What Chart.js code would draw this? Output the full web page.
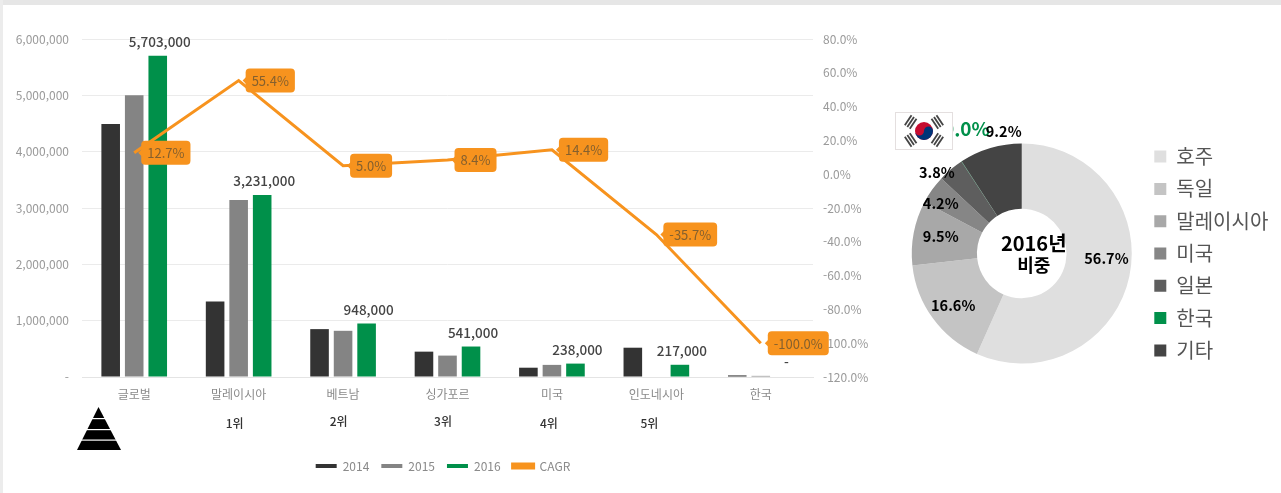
<!DOCTYPE html>
<html lang="ko">
<head>
<meta charset="utf-8">
<title>2016 chart</title>
<script src="https://cdn.jsdelivr.net/npm/chart.js@4"></script>
<style>
html,body{margin:0;padding:0;background:#fff;width:1281px;height:493px;overflow:hidden;font-family:"Noto Sans CJK KR",sans-serif}
#frameTop{position:absolute;left:0;top:0;width:1281px;height:5px;background:#e6e6e6}
#frameLeft{position:absolute;left:0;top:0;width:3px;height:493px;background:#ececec}
#c1{position:absolute;left:0;top:0}
#c2{position:absolute;left:880px;top:0}
#flag{position:absolute;left:895px;top:112px}
#pyramid{position:absolute;left:77px;top:407px}
</style>
</head>
<body>
<div id="frameTop"></div><div id="frameLeft"></div>
<canvas id="c1" width="886" height="493"></canvas>
<canvas id="c2" width="401" height="493"></canvas>
<svg id="pyramid" width="44" height="43" viewBox="0 0 44 43">
  <polygon points="21.5,0 0,43 44,43" fill="#000"/>
  <rect x="0" y="11" width="44" height="1.2" fill="#fff"/>
  <rect x="0" y="22" width="44" height="1.2" fill="#fff"/>
  <rect x="0" y="32.5" width="44" height="1.2" fill="#fff"/>
</svg>
<svg id="flag" width="58" height="38" viewBox="0 0 58 38">
  <rect x="0.5" y="0.5" width="57" height="37" fill="#fff" stroke="#e4dfdf"/>
  <g transform="translate(29 19)">
    <circle r="9" fill="#c60c30"/>
    <path d="M-9 0A9 9 0 0 0 9 0A4.5 4.5 0 0 0 0 0A4.5 4.5 0 0 1 -9 0Z" fill="#003478"/>
    <g fill="#444">
      <g transform="rotate(-56)"><rect x="-6" y="-20" width="12" height="1.8"/><rect x="-6" y="-17" width="12" height="1.8"/><rect x="-6" y="-14" width="12" height="1.8"/></g>
      <g transform="rotate(56)"><rect x="-6" y="-20" width="12" height="1.8"/><rect x="-6" y="-17" width="12" height="1.8"/><rect x="-6" y="-14" width="12" height="1.8"/></g>
      <g transform="rotate(124)"><rect x="-6" y="-20" width="12" height="1.8"/><rect x="-6" y="-17" width="12" height="1.8"/><rect x="-6" y="-14" width="12" height="1.8"/></g>
      <g transform="rotate(-124)"><rect x="-6" y="-20" width="12" height="1.8"/><rect x="-6" y="-17" width="12" height="1.8"/><rect x="-6" y="-14" width="12" height="1.8"/></g>
    </g>
  </g>
</svg>
<script>
const FONT = '"Noto Sans CJK KR","Noto Sans",sans-serif';

const categories = ['글로벌','말레이시아','베트남','싱가포르','미국','인도네시아','한국'];
const ranks = ['','1위','2위','3위','4위','5위',''];
const values2014 = [4490000,1340000,850000,450000,165000,520000,28000];
const values2015 = [5000000,3140000,820000,380000,215000,null,20000];
const values2016 = [5703000,3231000,948000,541000,238000,217000,0];
const cagr = [12.7,55.4,5.0,8.4,14.4,-35.7,-100.0];

const shareLabels = ['호주','독일','말레이시아','미국','일본','한국','기타'];
const shareValues = [56.7,16.6,9.5,4.2,3.8,0.04,9.2];

const seriesColors = {y2014:'#333333',y2015:'#848484',y2016:'#00904a',cagr:'#f7931e'};
const shareColors = ['#dfdfdf','#c4c4c4','#a8a8a8','#868686','#5e5e5e','#00904a','#444444'];
const rankDx = [0,-4,-4.5,-4.5,-3,-7,0];
const rankY = [0,423,421,421,423,423,0];
const shareLabelDx = [9,-6,-5,-18,-35,-13,4];
const shareLabelDy = [-11,6,-2,-5,-22,-60,-48];

const barValueLabels = {
  id:'barValueLabels',
  afterDatasetsDraw(chart){
    const ctx = chart.ctx, meta = chart.getDatasetMeta(2);
    ctx.save();
    ctx.font = '500 13.5px '+FONT;
    ctx.fillStyle = '#444';
    ctx.textAlign = 'center';
    ctx.textBaseline = 'middle';
    meta.data.forEach((el,i)=>{
      const v = values2016[i];
      ctx.fillText(v===0?'-':v.toLocaleString('en-US'), el.x+2, el.y-14);
    });
    ctx.restore();
  }
};

const rankLabels = {
  id:'rankLabels',
  afterDraw(chart){
    const ctx = chart.ctx, xs = chart.scales.x;
    ctx.save();
    ctx.font = '500 12px '+FONT;
    ctx.fillStyle = '#333';
    ctx.textAlign = 'center';
    ctx.textBaseline = 'middle';
    ranks.forEach((r,i)=>{ if(r) ctx.fillText(r, xs.getPixelForTick(i)+rankDx[i], rankY[i]); });
    ctx.restore();
  }
};

const cagrCallouts = {
  id:'cagrCallouts',
  afterDatasetsDraw(chart){
    const ctx = chart.ctx, meta = chart.getDatasetMeta(3);
    ctx.save();
    ctx.font = '13px '+FONT;
    ctx.textBaseline = 'middle';
    ctx.textAlign = 'left';
    meta.data.forEach((el,i)=>{
      const t = cagr[i].toFixed(1)+'%';
      const w = ctx.measureText(t).width+12, h = 24, bx = el.x+7, by = el.y-12;
      ctx.fillStyle = seriesColors.cagr;
      ctx.beginPath();
      ctx.roundRect(bx,by,w,h,4);
      ctx.fill();
      ctx.beginPath();
      ctx.moveTo(bx+1,el.y-4);
      ctx.lineTo(bx-3,el.y);
      ctx.lineTo(bx+1,el.y+4);
      ctx.closePath();
      ctx.fill();
      ctx.fillStyle = '#85602e';
      ctx.fillText(t,bx+6,el.y+0.5);
    });
    ctx.restore();
  }
};

new Chart(document.getElementById('c1'),{
  type:'bar',
  data:{
    labels:categories,
    datasets:[
      {label:'2014',data:values2014,backgroundColor:seriesColors.y2014,order:1,yAxisID:'y'},
      {label:'2015',data:values2015,backgroundColor:seriesColors.y2015,order:1,yAxisID:'y'},
      {label:'2016',data:values2016,backgroundColor:seriesColors.y2016,order:1,yAxisID:'y'},
      {label:'CAGR',type:'line',data:cagr,borderColor:seriesColors.cagr,backgroundColor:seriesColors.cagr,borderWidth:3,pointRadius:0,tension:0,order:0,yAxisID:'y1'}
    ]
  },
  options:{
    responsive:false,
    animation:false,
    categoryPercentage:0.676,
    barPercentage:0.79,
    layout:{padding:{top:39,bottom:11,left:0,right:0}},
    plugins:{
      tooltip:{enabled:false},
      legend:{
        position:'bottom',
        labels:{boxWidth:21,boxHeight:4,padding:12,color:'#8a8a8a',font:{family:FONT,size:12},
          sort:(a,b)=>a.datasetIndex-b.datasetIndex}
      }
    },
    scales:{
      x:{
        grid:{display:false},
        border:{color:'#e4e4e4'},
        ticks:{padding:2,color:'#8a8a8a',font:{family:FONT,size:12},autoSkip:false,maxRotation:0},
        afterFit(s){s.height=71;}
      },
      y:{
        position:'left',min:0,max:6000000,
        grid:{color:'#ebebeb',drawTicks:false},
        border:{display:false},
        ticks:{stepSize:1000000,padding:13,color:'#9a9a9a',font:{family:FONT,size:12},
          callback:v=>v===0?'-':v.toLocaleString('en-US')},
        afterFit(s){s.width=82;}
      },
      y1:{
        position:'right',min:-120,max:80,
        grid:{display:false,drawTicks:false},
        border:{display:false},
        ticks:{stepSize:20,padding:10,color:'#9a9a9a',font:{family:FONT,size:12},
          callback:v=>v.toFixed(1)+'%'},
        afterFit(s){s.width=73;}
      }
    }
  },
  plugins:[barValueLabels,cagrCallouts,rankLabels]
});

const shareText = {
  id:'shareText',
  afterDraw(chart){
    const ctx = chart.ctx, meta = chart.getDatasetMeta(0);
    ctx.save();
    ctx.textAlign = 'center';
    ctx.textBaseline = 'middle';
    meta.data.forEach((arc,i)=>{
      const p = arc.tooltipPosition();
      const isKorea = shareLabels[i]==='한국';
      ctx.font = (isKorea?'700 19px ':'700 14.5px ')+FONT;
      ctx.fillStyle = isKorea?shareColors[i]:'#000';
      ctx.fillText(shareValues[i].toFixed(1)+'%', p.x+shareLabelDx[i], p.y+shareLabelDy[i]);
    });
    const c = meta.data[0];
    ctx.font = '700 20px '+FONT;
    ctx.fillStyle = '#000';
    ctx.fillText('2016년', c.x+12, c.y-10);
    ctx.font = '700 18px '+FONT;
    ctx.fillText('비중', c.x+12, c.y+12);
    ctx.restore();
  }
};

new Chart(document.getElementById('c2'),{
  type:'doughnut',
  data:{
    labels:shareLabels,
    datasets:[{data:shareValues,backgroundColor:shareColors,borderWidth:0,radius:110,cutout:49}]
  },
  options:{
    responsive:false,
    animation:false,
    layout:{padding:{top:14,bottom:0,left:21.5,right:2.7}},
    plugins:{
      tooltip:{enabled:false},
      legend:{
        position:'right',
        labels:{boxWidth:12,boxHeight:12,padding:12.3,color:'#555',font:{family:FONT,size:20}}
      }
    }
  },
  plugins:[shareText]
});
</script>
</body>
</html>
